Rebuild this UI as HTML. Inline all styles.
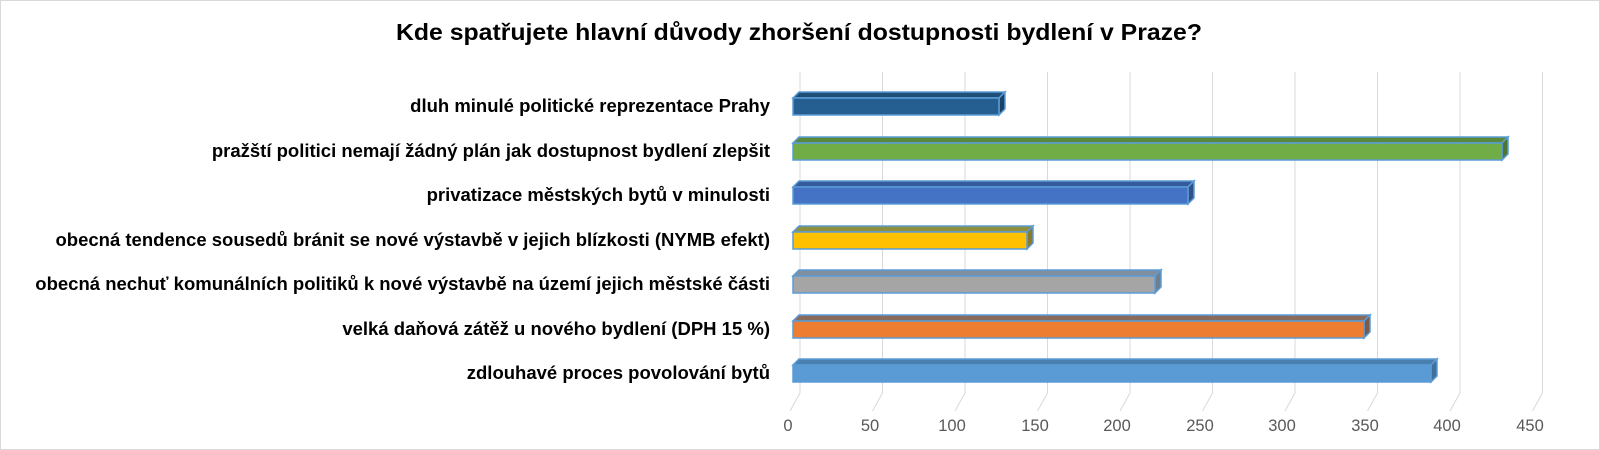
<!DOCTYPE html>
<html><head><meta charset="utf-8"><style>
html,body{margin:0;padding:0;background:#fff}
svg{display:block}
text{font-family:"Liberation Sans",Arial,sans-serif}
</style></head><body>
<svg width="1600" height="450" xmlns="http://www.w3.org/2000/svg">
<rect x="0.5" y="0.5" width="1599" height="449" fill="#fff" stroke="#d9d9d9"/>
<text x="799" y="40" font-size="23" font-weight="bold" text-anchor="middle" fill="#000" textLength="806" lengthAdjust="spacingAndGlyphs">Kde spatřujete hlavní důvody zhoršení dostupnosti bydlení v Praze?</text>
<g stroke="#d9d9d9" stroke-width="1" fill="none">
<path d="M800 72V393L790 411"/><path d="M882.5 72V393L872.5 411"/><path d="M965 72V393L955 411"/>
<path d="M1047.5 72V393L1037.5 411"/><path d="M1130 72V393L1120 411"/><path d="M1212.5 72V393L1202.5 411"/>
<path d="M1295 72V393L1285 411"/><path d="M1377.5 72V393L1367.5 411"/><path d="M1460 72V393L1450 411"/>
<path d="M1542.5 72V393L1532.5 411"/>
</g>
<g font-size="16.5" fill="#595959" text-anchor="middle">
<text x="788" y="431">0</text><text x="870" y="431">50</text><text x="952" y="431">100</text>
<text x="1035" y="431">150</text><text x="1117" y="431">200</text><text x="1200" y="431">250</text>
<text x="1282" y="431">300</text><text x="1365" y="431">350</text><text x="1447" y="431">400</text>
<text x="1530" y="431">450</text>
</g>
<g font-size="18.5" font-weight="bold" fill="#000" text-anchor="end">
<text x="770" y="112">dluh minulé politické reprezentace Prahy</text>
<text x="770" y="157">pražští politici nemají žádný plán jak dostupnost bydlení zlepšit</text>
<text x="770" y="201">privatizace městských bytů v minulosti</text>
<text x="770" y="246">obecná tendence sousedů bránit se nové výstavbě v jejich blízkosti (NYMB efekt)</text>
<text x="770" y="290">obecná nechuť komunálních politiků k nové výstavbě na území jejich městské části</text>
<text x="770" y="335">velká daňová zátěž u nového bydlení (DPH 15 %)</text>
<text x="770" y="379">zdlouhavé proces povolování bytů</text>
</g>
<g stroke="#5b9bd5" stroke-width="1.5">
<g><path d="M793 98l6 -6h206l-6 6z" fill="#1f4e79"/><path d="M999 98l6 -6v17l-6 6z" fill="#1a4266"/><rect x="793" y="98" width="206" height="17" fill="#255e91"/></g>
<g><path d="M793 143l6 -6h709l-6 6z" fill="#5a8a39"/><path d="M1502 143l6 -6v17l-6 6z" fill="#4d7731"/><rect x="793" y="143" width="709" height="17" fill="#70ad47"/></g>
<g><path d="M793 187l6 -6h395l-6 6z" fill="#365b9d"/><path d="M1188 187l6 -6v17l-6 6z" fill="#2f5089"/><rect x="793" y="187" width="395" height="17" fill="#4472c4"/></g>
<g><path d="M793 232l6 -6h234l-6 6z" fill="#8f8f40"/><path d="M1027 232l6 -6v17l-6 6z" fill="#8a7a30"/><rect x="793" y="232" width="234" height="17" fill="#ffc000"/></g>
<g><path d="M793 276l6 -6h362l-6 6z" fill="#7f8fa0"/><path d="M1155 276l6 -6v17l-6 6z" fill="#6f7f90"/><rect x="793" y="276" width="362" height="17" fill="#a5a5a5"/></g>
<g><path d="M793 321l6 -6h571l-6 6z" fill="#8a6a5a"/><path d="M1364 321l6 -6v17l-6 6z" fill="#7a5a4a"/><rect x="793" y="321" width="571" height="17" fill="#ed7d31"/></g>
<g><path d="M793 365l6 -6h638l-6 6z" fill="#4a80b0"/><path d="M1431 365l6 -6v17l-6 6z" fill="#3f6f9a"/><rect x="793" y="365" width="638" height="17" fill="#5b9bd5"/></g>
</g>
</svg>
</body></html>
